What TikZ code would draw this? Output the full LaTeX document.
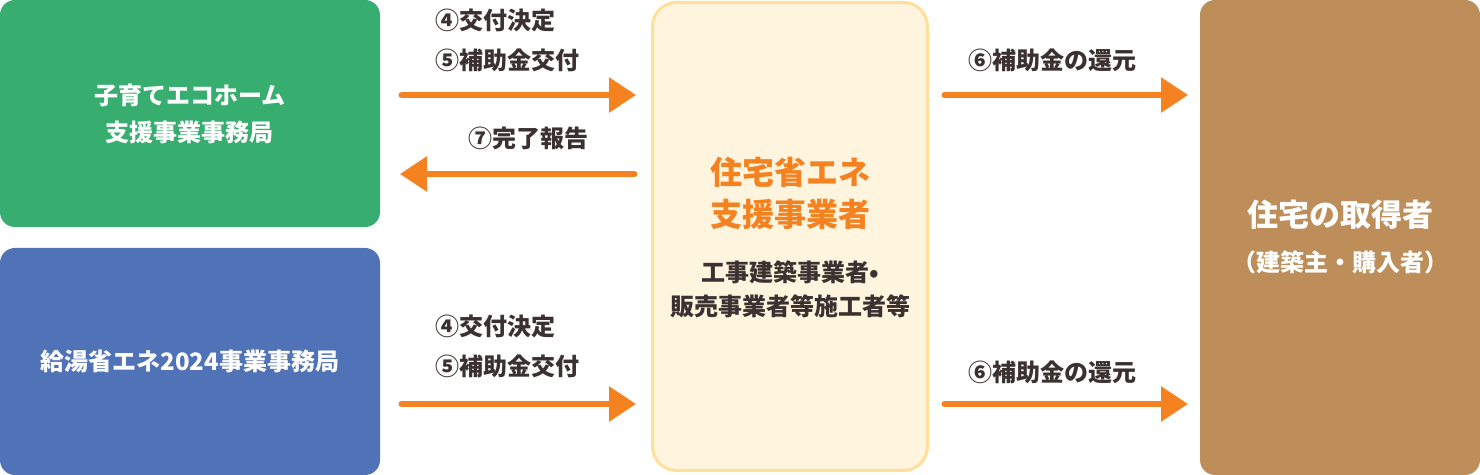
\documentclass[tikz,border=0pt]{standalone}
\usepackage{fontspec}
\setmainfont{Noto Sans CJK JP}
\usetikzlibrary{arrows.meta, positioning}
\definecolor{OfficeGreen}{HTML}{37AE6F}
\definecolor{OfficeBlue}{HTML}{5072B7}
\definecolor{OwnerBrown}{HTML}{BD8D5A}
\definecolor{FlowOrange}{HTML}{F58220}
\definecolor{DealerFill}{HTML}{FFF4DD}
\definecolor{DealerLine}{HTML}{FFE09B}
\definecolor{TextDark}{HTML}{3A3130}
\tikzstyle{every node}=[font=\bfseries]
\tikzset{BoxStyle/.style = {
			      shape          = rectangle,
			      rounded corners = 7.5pt,
			      draw           = none,
			      text           = white,
			      align          = center,
			      inner sep      = 0pt,
			      minimum width  = 190pt,
			      minimum height = 113.5pt,
			      font           = \bfseries\fontsize{12}{18.5}\selectfont}
			      }
\tikzset{LabelStyle/.style = {
			      anchor         = west,
			      text           = TextDark,
			      inner sep      = 0pt,
			      font           = \bfseries\fontsize{12}{13}\selectfont}
			      }
\tikzset{FlowStyle/.style = {
			      draw           = FlowOrange,
			      line width     = 3pt,
			      line cap       = round,
			      -{Triangle[length=13.5pt,width=17pt]}}
			      }

\begin{document}
\begin{tikzpicture}[x=0.5pt,y=-0.5pt]
							\useasboundingbox (0,0) rectangle (1480,475);
							\draw (190,113.5) node[BoxStyle, fill=OfficeGreen]   (Eco) {子育てエコホーム\\支援事業事務局};
							\draw (190,361.5) node[BoxStyle, fill=OfficeBlue]   (Kyuto) {給湯省エネ2024事業事務局};
							\draw (1340,237.5) node[BoxStyle, fill=OwnerBrown, minimum width=140pt, minimum height=237.5pt]   (Owner) {};
							\draw (790,236.5) node[BoxStyle, fill=DealerFill, draw=DealerLine, line width=1.5pt, rounded corners=12pt, minimum width=137.5pt, minimum height=234pt]   (Dealer) {};

							\draw (790,172) node[text=FlowOrange, font=\bfseries\fontsize{16}{16}\selectfont]   (DealerT1) {住宅省エネ};
							\draw (790,214) node[text=FlowOrange, font=\bfseries\fontsize{16}{16}\selectfont]   (DealerT2) {支援事業者};
							\draw (790,272) node[text=TextDark, font=\bfseries\fontsize{12}{12}\selectfont]   (DealerS1) {工事建築事業者•};
							\draw (790,306) node[text=TextDark, font=\bfseries\fontsize{12}{12}\selectfont]   (DealerS2) {販売事業者等施工者等};

							\draw (1340,215) node[text=white, font=\bfseries\fontsize{15.5}{15.5}\selectfont]   (OwnerT) {住宅の取得者};
							\draw (1340,262) node[text=white, font=\bfseries\fontsize{12}{12}\selectfont]   (OwnerS) {（建築主・購入者）};

							\draw (435,20) node[LabelStyle]   (L1) {④交付決定};
							\draw (435,60) node[LabelStyle]   (L2) {⑤補助金交付};
							\draw (468,138) node[LabelStyle]   (L3) {⑦完了報告};
							\draw (968,60) node[LabelStyle]   (L4) {⑥補助金の還元};
							\draw (435,326) node[LabelStyle]   (L5) {④交付決定};
							\draw (435,366) node[LabelStyle]   (L6) {⑤補助金交付};
							\draw (968,372) node[LabelStyle]   (L7) {⑥補助金の還元};

							\coordinate (EcoOut) at (401.5,95);
							\coordinate (EcoIn) at (400,174);
							\coordinate (KyutoOut) at (401.5,404);
							\coordinate (DealerInA) at (636,95);
							\coordinate (DealerOutA) at (634.5,174);
							\coordinate (DealerInB) at (636,404);
							\coordinate (DealerOutC) at (944.5,95);
							\coordinate (DealerOutD) at (944.5,404);
							\coordinate (OwnerInA) at (1188,95);
							\coordinate (OwnerInB) at (1188,404);

							\draw[FlowStyle]    (EcoOut) to[] (DealerInA);
							\draw[FlowStyle]    (DealerOutA) to[] (EcoIn);
							\draw[FlowStyle]    (KyutoOut) to[] (DealerInB);
							\draw[FlowStyle]    (DealerOutC) to[] (OwnerInA);
							\draw[FlowStyle]    (DealerOutD) to[] (OwnerInB);

					\end{tikzpicture}
\end{document}
